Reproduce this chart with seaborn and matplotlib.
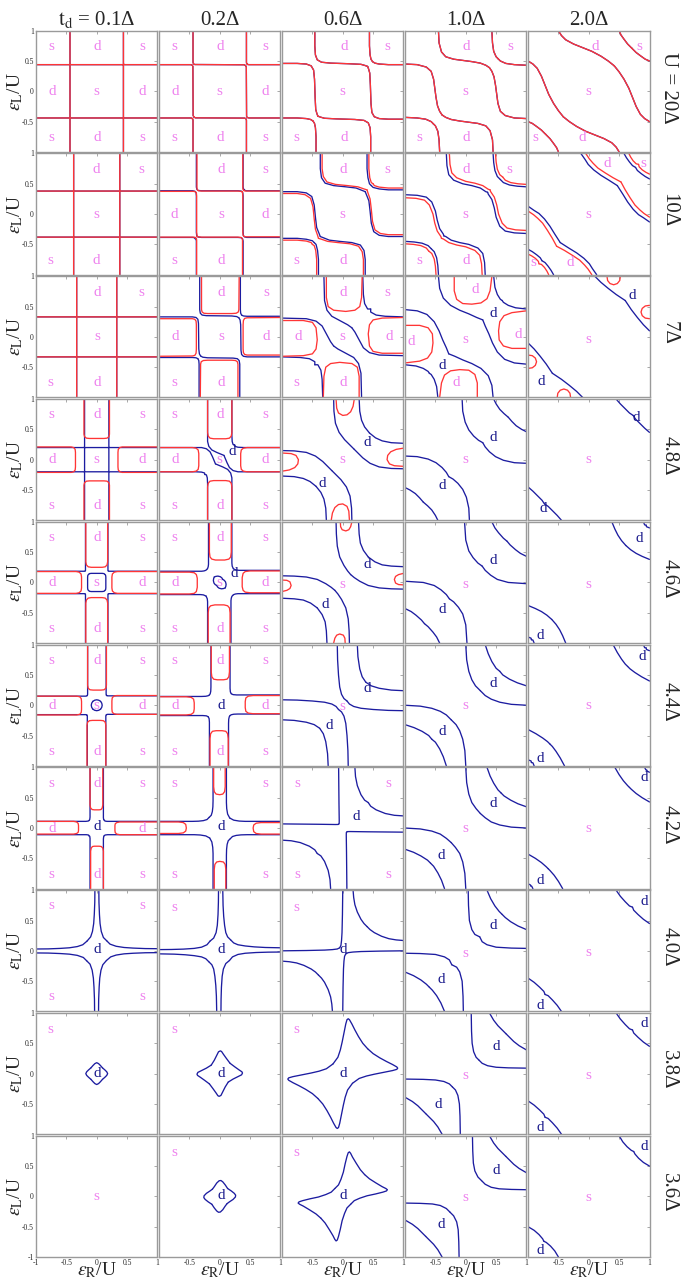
import numpy as np
import pandas as pd
import seaborn as sns
import matplotlib
matplotlib.use('Agg')
import matplotlib.pyplot as plt

# column / row headers
TD_VALUES = ['0.1', '0.2', '0.6', '1.0', '2.0']
U_VALUES = ['20', '10', '7', '4.8', '4.6', '4.4', '4.2', '4.0', '3.8', '3.6']

# Phase boundaries, one entry per t_d column. Each piece is a flat x,y list
# (eps_R/U, eps_L/U); the diagram is symmetric under
# (x,y)->(y,x), (-x,-y), (-y,-x), so only one piece of every orbit is kept.
U20_BLUE = [
    [[-0.44, 1, -0.44, 0.455, -0.436, 0.444, -0.425, 0.44, 0.425, 0.44, 0.435, 0.435],
     [0.44, 1, 0.44, 0.455, 0.445, 0.445]],
    [[-0.44, 1, -0.44, 0.48, -0.432, 0.452, -0.41, 0.442, 0.4, 0.438, 0.425, 0.425],
     [0.44, 1, 0.44, 0.48, 0.443, 0.458, 0.452, 0.452]],
    [[-0.46, 1, -0.46, 0.75, -0.45, 0.6, -0.42, 0.52, -0.35, 0.48, -0.2, 0.465, 0.1, 0.455,
      0.3, 0.445, 0.37, 0.425, 0.41, 0.41],
     [0.44, 1, 0.44, 0.75, 0.45, 0.6, 0.465, 0.53, 0.49, 0.49]],
    [[-0.45, 1, -0.44, 0.8, -0.40, 0.65, -0.33, 0.57, -0.2, 0.53, -0.05, 0.51, 0.1, 0.49,
      0.24, 0.465, 0.33, 0.43, 0.39, 0.39],
     [0.43, 1, 0.44, 0.8, 0.46, 0.66, 0.5, 0.57, 0.535, 0.535]],
    [[-0.5, 1, -0.45, 0.92, -0.38, 0.85, -0.25, 0.78, -0.1, 0.72, 0.05, 0.66, 0.2, 0.58,
      0.32, 0.5, 0.42, 0.42],
     [0.5, 1, 0.53, 0.93, 0.58, 0.86, 0.64, 0.78, 0.71, 0.71]],
]
U20_RED = U20_BLUE

U10_BLUE = [
    [[-0.38, 1, -0.38, 0.395, -0.376, 0.384, -0.365, 0.38, 0.365, 0.38, 0.376, 0.376],
     [0.38, 1, 0.38, 0.395, 0.385, 0.385]],
    [[-0.385, 1, -0.385, 0.445, -0.377, 0.41, -0.355, 0.39, -0.3, 0.385, 0.3, 0.385,
      0.35, 0.38, 0.37, 0.37],
     [0.385, 1, 0.385, 0.445, 0.39, 0.415, 0.405, 0.405]],
    [[-0.37, 1, -0.37, 0.75, -0.35, 0.6, -0.29, 0.51, -0.15, 0.47, 0.05, 0.45, 0.22, 0.43,
      0.32, 0.39, 0.37, 0.37],
     [0.40, 1, 0.40, 0.75, 0.415, 0.6, 0.44, 0.5, 0.47, 0.47]],
    [[-0.32, 1, -0.31, 0.8, -0.28, 0.65, -0.2, 0.56, -0.05, 0.5, 0.1, 0.47, 0.24, 0.43,
      0.33, 0.37, 0.36, 0.36],
     [0.45, 1, 0.46, 0.85, 0.48, 0.72, 0.52, 0.62, 0.57, 0.57]],
    [[-0.13, 1, -0.06, 0.9, -0.01, 0.82, 0.08, 0.73, 0.2, 0.64, 0.33, 0.56, 0.47, 0.47],
     [0.58, 1, 0.62, 0.93, 0.67, 0.86, 0.72, 0.8, 0.77, 0.77]],
]
U10_RED = [
    [[-0.38, 1, -0.38, 0.395, -0.376, 0.384, -0.365, 0.38, 0.365, 0.38, 0.376, 0.376],
     [0.38, 1, 0.38, 0.395, 0.385, 0.385]],
    [[-0.375, 1, -0.375, 0.43, -0.368, 0.4, -0.35, 0.385, -0.3, 0.38, 0.3, 0.38,
      0.35, 0.375, 0.37, 0.37],
     [0.38, 1, 0.38, 0.43, 0.385, 0.4, 0.395, 0.395]],
    [[-0.34, 1, -0.34, 0.75, -0.32, 0.62, -0.26, 0.53, -0.12, 0.49, 0.08, 0.47, 0.25, 0.45,
      0.35, 0.415, 0.40, 0.40],
     [0.43, 1, 0.43, 0.75, 0.445, 0.6, 0.47, 0.52, 0.50, 0.50]],
    [[-0.27, 1, -0.26, 0.82, -0.23, 0.68, -0.15, 0.6, 0.0, 0.54, 0.15, 0.51, 0.28, 0.47,
      0.37, 0.41, 0.40, 0.40],
     [0.49, 1, 0.50, 0.86, 0.52, 0.74, 0.56, 0.65, 0.61, 0.61]],
    [[-0.05, 1, 0.01, 0.91, 0.07, 0.84, 0.15, 0.76, 0.27, 0.68, 0.4, 0.6, 0.53, 0.53],
     [0.66, 1, 0.69, 0.94, 0.73, 0.88, 0.78, 0.83, 0.82, 0.82]],
]

U7_BLUE = [
    [[-0.33, 1, -0.33, 0.345, -0.326, 0.334, -0.315, 0.33, 0.315, 0.33, 0.326, 0.326],
     [0.33, 1, 0.33, 0.345, 0.335, 0.335]],
    [[-0.33, 1, -0.33, 0.45, -0.32, 0.39, -0.29, 0.36, -0.22, 0.35, 0.2, 0.345, 0.28, 0.335,
      0.315, 0.315],
     [0.34, 1, 0.34, 0.45, 0.345, 0.39, 0.36, 0.36]],
    [[-0.31, 1, -0.30, 0.6, -0.26, 0.44, -0.18, 0.34, -0.05, 0.27, 0.08, 0.2, 0.15, 0.15],
     [0.33, 1, 0.34, 0.7, 0.36, 0.55, 0.41, 0.46, 0.46, 0.46]],
    [[-0.45, 1, -0.43, 0.8, -0.37, 0.64, -0.25, 0.52, -0.1, 0.44, 0.05, 0.38, 0.18, 0.32,
      0.28, 0.28],
     [0.46, 1, 0.48, 0.82, 0.52, 0.7, 0.57, 0.62, 0.6, 0.6]],
    [[0.1, 1, 0.2, 0.9, 0.32, 0.8, 0.45, 0.7, 0.6, 0.6]],
]
U7_RED = [
    [[-0.33, 1, -0.33, 0.345, -0.326, 0.334, -0.315, 0.33, 0.315, 0.33, 0.326, 0.334,
      0.33, 0.345, 0.33, 1]],
    [[-0.30, 1, -0.30, 0.45, -0.29, 0.41, -0.26, 0.39, -0.2, 0.385, 0.2, 0.385, 0.27, 0.39,
      0.305, 0.41, 0.315, 0.45, 0.32, 1]],
    [[-0.27, 1, -0.27, 0.65, -0.24, 0.5, -0.15, 0.44, 0.05, 0.42, 0.2, 0.44, 0.28, 0.5,
      0.31, 0.65, 0.32, 1]],
    [[-0.19, 1, -0.19, 0.76, -0.15, 0.62, -0.05, 0.55, 0.1, 0.54, 0.25, 0.56, 0.35, 0.63,
      0.4, 0.76, 0.43, 1]],
    [[0.3, 1, 0.31, 0.93, 0.35, 0.88, 0.41, 0.86, 0.47, 0.88, 0.51, 0.93, 0.52, 1]],
]

U48_BLUE = [
    [[-0.2, 1, -0.2, 0.215, -0.204, 0.204],
     [0.2, 1, 0.2, 0.215, 0.204, 0.204],
     [0.196, 0.196, 0.185, 0.2, -0.185, 0.2, -0.196, 0.196]],
    [[-0.2, 1, -0.2, 0.4, -0.2, 0.3, -0.18, 0.22, -0.13, 0.16, -0.05, 0.12, 0.07, 0.07],
     [0.2, 1, 0.2, 0.4, 0.205, 0.3, 0.22, 0.25, 0.245, 0.245]],
    [[-0.15, 1, -0.145, 0.8, -0.12, 0.6, -0.06, 0.45, 0.03, 0.33, 0.11, 0.25, 0.18, 0.18],
     [0.27, 1, 0.28, 0.8, 0.31, 0.65, 0.36, 0.54, 0.44, 0.44]],
    [[-0.06, 1, -0.05, 0.8, -0.01, 0.62, 0.05, 0.49, 0.13, 0.39, 0.21, 0.32, 0.28, 0.28],
     [0.46, 1, 0.5, 0.92, 0.56, 0.83, 0.63, 0.76, 0.7, 0.7]],
    [[0.45, 1, 0.52, 0.92, 0.6, 0.84, 0.67, 0.77, 0.73, 0.73]],
]
U48_RED = [
    [[-0.21, 1, -0.21, 0.42, -0.2, 0.38, -0.17, 0.355, -0.12, 0.35, 0.12, 0.35, 0.17, 0.355,
      0.2, 0.38, 0.21, 0.42, 0.21, 1]],
    [[-0.2, 1, -0.2, 0.45, -0.19, 0.39, -0.16, 0.355, -0.1, 0.345, 0.1, 0.345, 0.16, 0.355,
      0.19, 0.39, 0.2, 0.45, 0.2, 1]],
    [[-0.11, 1, -0.1, 0.85, -0.07, 0.77, 0.0, 0.73, 0.07, 0.74, 0.13, 0.79, 0.17, 0.88, 0.19, 1]],
    [], [],
]

U46_BLUE = [
    [[-0.185, 1, -0.185, 0.2, -0.19, 0.19],
     [0.185, 1, 0.185, 0.2, 0.19, 0.19],
     [0.133, 0.133, 0.12, 0.146, 0.09, 0.15, -0.09, 0.15, -0.12, 0.146, -0.133, 0.133]],
    [[-0.185, 1, -0.185, 0.3, -0.19, 0.26, -0.2, 0.23, -0.214, 0.214],
     [0.2, 1, 0.2, 0.32, 0.205, 0.27, 0.225, 0.225],
     [0.05, 0.05, 0.035, 0.075, 0.01, 0.095, -0.03, 0.105, -0.065, 0.1, -0.09, 0.09]],
    [[-0.11, 1, -0.105, 0.8, -0.09, 0.6, -0.05, 0.42, 0.02, 0.28, 0.08, 0.19, 0.13, 0.13],
     [0.26, 1, 0.27, 0.8, 0.29, 0.65, 0.34, 0.53, 0.42, 0.42]],
    [[-0.02, 1, 0.0, 0.7, 0.05, 0.52, 0.12, 0.41, 0.2, 0.32, 0.27, 0.27],
     [0.43, 1, 0.48, 0.9, 0.54, 0.82, 0.62, 0.73, 0.68, 0.68]],
    [[0.38, 1, 0.43, 0.88, 0.48, 0.78, 0.54, 0.69, 0.61, 0.61],
     [0.9, 1, 0.92, 0.95, 0.945, 0.945]],
]
U46_RED = [
    [[-0.18, 1, -0.18, 0.34, -0.17, 0.29, -0.14, 0.258, -0.09, 0.25, 0.09, 0.25, 0.14, 0.258,
      0.17, 0.29, 0.18, 0.34, 0.18, 1]],
    [[-0.17, 1, -0.17, 0.5, -0.16, 0.42, -0.13, 0.385, -0.07, 0.37, 0.08, 0.37, 0.15, 0.385,
      0.18, 0.42, 0.19, 0.5, 0.19, 1]],
    [[-0.04, 1, -0.035, 0.92, -0.01, 0.87, 0.05, 0.85, 0.1, 0.87, 0.13, 0.92, 0.15, 1]],
    [], [],
]

U44_BLUE = [
    [[-0.15, 1, -0.15, 0.18, -0.153, 0.165, -0.159, 0.159],
     [0.155, 1, 0.155, 0.18, 0.158, 0.165, 0.164, 0.164],
     [0.064, 0.064, 0.034, 0.083, 0, 0.09, -0.034, 0.083, -0.064, 0.064]],
    [[-0.145, 1, -0.145, 0.3, -0.148, 0.23, -0.157, 0.19, -0.17, 0.17],
     [0.17, 1, 0.17, 0.28, 0.175, 0.22, 0.19, 0.19]],
    [[-0.09, 1, -0.085, 0.75, -0.07, 0.5, -0.05, 0.3, -0.02, 0.18, 0.02, 0.11, 0.07, 0.07],
     [0.24, 1, 0.25, 0.8, 0.28, 0.6, 0.32, 0.47, 0.38, 0.38]],
    [[0.0, 1, 0.015, 0.75, 0.05, 0.56, 0.1, 0.42, 0.16, 0.32, 0.24, 0.24],
     [0.32, 1, 0.37, 0.85, 0.43, 0.72, 0.5, 0.61, 0.56, 0.56]],
    [[0.4, 1, 0.47, 0.87, 0.54, 0.76, 0.6, 0.68, 0.64, 0.64],
     [0.9, 1, 0.92, 0.95, 0.945, 0.945]],
]
U44_RED = [
    [[-0.15, 1, -0.15, 0.33, -0.14, 0.28, -0.11, 0.255, -0.06, 0.25, 0.07, 0.25, 0.12, 0.255,
      0.15, 0.28, 0.16, 0.33, 0.16, 1]],
    [[-0.14, 1, -0.14, 0.55, -0.13, 0.47, -0.1, 0.43, -0.04, 0.42, 0.06, 0.42, 0.12, 0.43,
      0.15, 0.47, 0.16, 0.55, 0.16, 1]],
    [], [], [],
]

U42_BLUE = [
    [[-0.11, 1, -0.11, 0.18, -0.115, 0.14, -0.125, 0.125],
     [0.11, 1, 0.11, 0.17, 0.115, 0.135, 0.128, 0.128]],
    [[-0.11, 1, -0.11, 0.45, -0.113, 0.35, -0.122, 0.27, -0.14, 0.21, -0.175, 0.175],
     [0.11, 1, 0.11, 0.42, 0.115, 0.32, 0.13, 0.23, 0.165, 0.165]],
    [[-0.068, 1, -0.062, 0.4, -0.058, 0.12, -0.059, 0.075, -0.066, 0.066],
     [0.2, 1, 0.21, 0.85, 0.24, 0.7, 0.3, 0.55, 0.36, 0.46, 0.42, 0.42]],
    [[0.0, 1, 0.015, 0.75, 0.05, 0.56, 0.1, 0.42, 0.17, 0.32, 0.24, 0.24],
     [0.35, 1, 0.4, 0.86, 0.46, 0.74, 0.53, 0.63, 0.58, 0.58]],
    [[0.43, 1, 0.5, 0.88, 0.57, 0.78, 0.64, 0.7, 0.67, 0.67],
     [0.92, 1, 0.94, 0.96, 0.955, 0.955]],
]
U42_RED = [
    [[-0.11, 1, -0.11, 0.38, -0.1, 0.33, -0.075, 0.305, -0.04, 0.3, 0.04, 0.3, 0.07, 0.305,
      0.09, 0.33, 0.1, 0.38, 0.1, 1]],
    [[-0.1, 1, -0.1, 0.68, -0.09, 0.6, -0.06, 0.56, 0, 0.55, 0.05, 0.56, 0.08, 0.6, 0.09, 0.68,
      0.09, 1]],
    [], [], [],
]

U40_BLUE = [
    [[-0.03, 1, -0.032, 0.8, -0.04, 0.6, -0.05, 0.45, -0.07, 0.32, -0.1, 0.23, -0.16, 0.16],
     [0.035, 1, 0.037, 0.8, 0.045, 0.6, 0.055, 0.45, 0.075, 0.32, 0.11, 0.22, 0.165, 0.165]],
    [[-0.02, 1, -0.022, 0.8, -0.028, 0.6, -0.04, 0.42, -0.06, 0.3, -0.1, 0.21, -0.16, 0.16],
     [0.05, 1, 0.055, 0.75, 0.065, 0.57, 0.08, 0.42, 0.1, 0.3, 0.13, 0.23, 0.18, 0.18]],
    [[0.0, 1, -0.005, 0.6, -0.012, 0.3, -0.02, 0.17, -0.03, 0.09, -0.05, 0.05],
     [0.17, 1, 0.18, 0.88, 0.2, 0.76, 0.24, 0.64, 0.3, 0.52, 0.35, 0.45, 0.4, 0.4]],
    [[0.04, 1, 0.045, 0.75, 0.06, 0.5, 0.1, 0.35, 0.15, 0.27, 0.23, 0.23],
     [0.35, 1, 0.41, 0.86, 0.48, 0.74, 0.55, 0.65, 0.6, 0.6]],
    [[0.45, 1, 0.52, 0.9, 0.6, 0.81, 0.67, 0.74, 0.72, 0.72]],
]
U40_RED = [[], [], [], [], []]

U38_BLUE = [
    [[0.095, 0.095, 0.06, 0.135, 0.03, 0.165, 0.0, 0.18, -0.03, 0.165, -0.06, 0.135, -0.095, 0.095]],
    [[0.17, 0.17, 0.11, 0.25, 0.06, 0.32, 0.03, 0.365, 0.01, 0.375, -0.02, 0.36, -0.05, 0.3,
      -0.09, 0.22, -0.14, 0.14]],
    [[0.41, 0.41, 0.33, 0.5, 0.26, 0.61, 0.2, 0.72, 0.15, 0.82, 0.11, 0.89, 0.09, 0.905,
      0.07, 0.89, 0.05, 0.82, 0.02, 0.67, -0.01, 0.52, -0.04, 0.39, -0.08, 0.27, -0.16, 0.16]],
    [[0.09, 1, 0.095, 0.7, 0.105, 0.5, 0.13, 0.36, 0.17, 0.27, 0.22, 0.22],
     [0.39, 1, 0.46, 0.88, 0.53, 0.79, 0.6, 0.72, 0.66, 0.66]],
    [[0.45, 1, 0.52, 0.9, 0.6, 0.81, 0.67, 0.74, 0.72, 0.72]],
]
U38_RED = [[], [], [], [], []]

U36_BLUE = [
    [],
    [[0.13, 0.13, 0.09, 0.19, 0.05, 0.24, 0.02, 0.262, -0.01, 0.258, -0.05, 0.22, -0.09, 0.16,
      -0.12, 0.12]],
    [[0.36, 0.36, 0.29, 0.44, 0.22, 0.55, 0.16, 0.65, 0.13, 0.71, 0.11, 0.735, 0.09, 0.72,
      0.07, 0.66, 0.04, 0.54, 0.01, 0.4, -0.03, 0.28, -0.07, 0.19, -0.13, 0.13]],
    [[0.11, 1, 0.115, 0.75, 0.125, 0.55, 0.15, 0.42, 0.2, 0.32, 0.26, 0.26],
     [0.39, 1, 0.46, 0.88, 0.53, 0.79, 0.6, 0.72, 0.66, 0.66]],
    [[0.5, 1, 0.56, 0.9, 0.63, 0.82, 0.7, 0.76, 0.74, 0.74]],
]
U36_RED = [[], [], [], [], []]

# phase labels (x, y, text): pink ones and the dark-blue ones
GRID9 = [(-0.75, 0.74, 's'), (0.01, 0.74, 'd'), (0.75, 0.74, 's'),
         (-0.74, 0.0, 'd'), (0.0, 0.0, 's'), (0.75, 0.0, 'd'),
         (-0.75, -0.76, 's'), (0.01, -0.76, 'd'), (0.75, -0.76, 's')]
U20_TEXT = [GRID9, GRID9,
            [(0.03, 0.74, 'd'), (0.73, 0.74, 's'), (0, 0, 's'), (-0.77, -0.76, 's'), (0.03, -0.76, 'd')],
            [(0.01, 0.74, 'd'), (0.74, 0.74, 's'), (0, 0, 's'), (-0.76, -0.76, 's'), (0.0, -0.76, 'd')],
            [(0.1, 0.74, 'd'), (0.83, 0.74, 's'), (0, 0, 's'), (-0.88, -0.76, 's'), (-0.1, -0.76, 'd')]]
U10_TEXT = [[(0, 0.74, 'd'), (0.74, 0.74, 's'), (0, 0, 's'), (-0.77, -0.76, 's'), (0, -0.76, 'd')],
            [(0.02, 0.74, 'd'), (0.75, 0.74, 's'), (-0.75, 0, 'd'), (0.02, 0, 's'), (0.75, 0, 'd'),
             (-0.75, -0.76, 's'), (0.02, -0.76, 'd')],
            [(0.01, 0.74, 'd'), (0.74, 0.74, 's'), (0, 0, 's'), (-0.77, -0.76, 's'), (0.01, -0.76, 'd')],
            [(0.01, 0.74, 'd'), (0.72, 0.74, 's'), (0, 0, 's'), (-0.76, -0.76, 's'), (0.01, -0.76, 'd')],
            [(0.31, 0.84, 'd'), (0.89, 0.84, 's'), (0, 0, 's'), (-0.92, -0.8, 's'), (-0.31, -0.8, 'd')]]
U7_TEXT = [[(0.01, 0.74, 'd'), (0.74, 0.74, 's'), (0.01, 0, 's'), (-0.77, -0.76, 's'), (0.01, -0.76, 'd')],
           [(0.03, 0.74, 'd'), (0.76, 0.74, 's'), (-0.73, 0, 'd'), (0.02, 0, 's'), (0.76, 0, 'd'),
            (-0.75, -0.76, 's'), (0.02, -0.76, 'd')],
           [(0.01, 0.74, 'd'), (0.74, 0.74, 's'), (-0.73, 0, 'd'), (0, 0, 's'), (0.77, 0, 'd'),
            (-0.77, -0.76, 's'), (0.01, -0.76, 'd')],
           [(0.16, 0.79, 'd'), (0.86, 0.04, 'd'), (-0.89, -0.07, 'd'), (-0.16, -0.76, 'd'), (0, -0.04, 's')],
           [(0, -0.04, 's')]]
U7_TEXT_B = [[], [], [], [(0.45, 0.38, 'd'), (-0.38, -0.48, 'd')], [(0.71, 0.68, 'd'), (-0.79, -0.73, 'd')]]
U48_TEXT = [GRID9, GRID9, [(0, 0, 's')], [(0, 0, 's')], [(0, 0, 's')]]
U48_TEXT_B = [[], [(0.21, 0.14, 'd')], [(0.4, 0.29, 'd'), (-0.33, -0.4, 'd')],
              [(0.45, 0.36, 'd'), (-0.38, -0.43, 'd')], [(0.78, 0.69, 'd'), (-0.75, -0.81, 'd')]]
U46_TEXT = [GRID9, GRID9, [(0, -0.03, 's')], [(0, -0.03, 's')], [(0, -0.03, 's')]]
U46_TEXT_B = [[], [(0.24, 0.14, 'd')], [(0.4, 0.29, 'd'), (-0.29, -0.37, 'd')],
              [(0.45, 0.36, 'd'), (-0.38, -0.44, 'd')], [(0.83, 0.73, 'd'), (-0.8, -0.87, 'd')]]
GRID8 = [t for t in GRID9 if t[:2] != (0.0, 0.0)]
U44_TEXT = [GRID9, GRID8, [(0, -0.02, 's')], [(0, 0, 's')], [(0, 0, 's')]]
U44_TEXT_B = [[], [(0.02, 0, 'd')], [(0.4, 0.28, 'd'), (-0.22, -0.33, 'd')],
              [(0.45, 0.36, 'd'), (-0.38, -0.44, 'd')], [(0.88, 0.8, 'd'), (-0.8, -0.88, 'd')]]
CORNERS = [(-0.75, 0.74, 's'), (0.75, 0.74, 's'), (-0.75, -0.76, 's'), (0.75, -0.76, 's')]
U42_TEXT = [GRID8, CORNERS, CORNERS, [(0, 0, 's')], [(0, 0, 's')]]
U42_TEXT_B = [[(0.01, 0.02, 'd')], [(0.02, 0.02, 'd')], [(0.22, 0.19, 'd')],
              [(0.46, 0.41, 'd'), (-0.4, -0.46, 'd')], [(0.92, 0.84, 'd'), (-0.8, -0.86, 'd')]]
U40_TEXT = [CORNERS, [(-0.75, 0.72, 's')], [(-0.77, 0.72, 's')], [(0, -0.04, 's')], [(0, -0.03, 's')]]
U40_TEXT_B = [[(0.01, 0.02, 'd')], [(0.02, 0.02, 'd')], [(0.01, 0.02, 'd')],
              [(0.46, 0.41, 'd'), (-0.41, -0.47, 'd')], [(0.92, 0.82, 'd'), (-0.8, -0.9, 'd')]]
U38_TEXT = [[(-0.77, 0.72, 's')], [(-0.75, 0.72, 's')], [(-0.77, 0.73, 's')], [(0, -0.03, 's')], [(0, -0.03, 's')]]
U38_TEXT_B = [[(0.01, 0.01, 'd')], [(0.02, 0.01, 'd')], [(0.01, 0.01, 'd')],
              [(0.51, 0.44, 'd'), (-0.45, -0.51, 'd')], [(0.92, 0.83, 'd'), (-0.8, -0.89, 'd')]]
U36_TEXT = [[(0, 0, 's')], [(-0.75, 0.72, 's')], [(-0.77, 0.73, 's')], [(0, -0.01, 's')], [(0, -0.01, 's')]]
U36_TEXT_B = [[], [(0.02, 0.02, 'd')], [(0.01, 0.02, 'd')],
              [(0.51, 0.43, 'd'), (-0.4, -0.46, 'd')], [(0.92, 0.82, 'd'), (-0.8, -0.89, 'd')]]

NONE5 = [[], [], [], [], []]
ROWS = [
    (U20_BLUE, U20_RED, U20_TEXT, NONE5),
    (U10_BLUE, U10_RED, U10_TEXT, NONE5),
    (U7_BLUE, U7_RED, U7_TEXT, U7_TEXT_B),
    (U48_BLUE, U48_RED, U48_TEXT, U48_TEXT_B),
    (U46_BLUE, U46_RED, U46_TEXT, U46_TEXT_B),
    (U44_BLUE, U44_RED, U44_TEXT, U44_TEXT_B),
    (U42_BLUE, U42_RED, U42_TEXT, U42_TEXT_B),
    (U40_BLUE, U40_RED, U40_TEXT, U40_TEXT_B),
    (U38_BLUE, U38_RED, U38_TEXT, U38_TEXT_B),
    (U36_BLUE, U36_RED, U36_TEXT, U36_TEXT_B),
]

BLUE = '#1c1ca0'
RED = '#ff3535'
PINK = '#ee82ee'
NAVY = '#1a1a8c'
FRAME = '#9a9a9a'


def sym_frame(pieces):
    """Expand the stored pieces with the four-fold symmetry of the diagram."""
    parts = []
    for k, flat in enumerate(pieces):
        x = np.asarray(flat[0::2], float)
        y = np.asarray(flat[1::2], float)
        for j, (sx, sy) in enumerate(((x, y), (y, x), (-x, -y), (-y, -x))):
            parts.append(pd.DataFrame({'x': sx, 'y': sy, 'unit': 4 * k + j}))
    return pd.concat(parts, ignore_index=True)


sns.set_style('white')
plt.rcParams['font.family'] = ['Liberation Serif', 'DejaVu Sans']
plt.rcParams['mathtext.fontset'] = 'stix'

fig = plt.figure(figsize=(6.83, 12.78), dpi=100)
gs = fig.add_gridspec(10, 5, left=36 / 683, right=649.5 / 683,
                      top=1 - 30.7 / 1278, bottom=1 - 1257 / 1278,
                      wspace=0.013, hspace=0.013)

ticks = [-1, -0.5, 0, 0.5, 1]
for r, (blue, red, text, text_b) in enumerate(ROWS):
    for c in range(5):
        ax = fig.add_subplot(gs[r, c])
        for pieces, color in ((blue[c], BLUE), (red[c], RED)):
            if pieces:
                sns.lineplot(data=sym_frame(pieces), x='x', y='y', units='unit',
                             estimator=None, sort=False, color=color,
                             linewidth=0.95, ax=ax, legend=False)
        for x, y, t in text[c]:
            ax.text(x, y, t, color=PINK, fontsize=11, ha='center', va='center')
        for x, y, t in text_b[c]:
            ax.text(x, y, t, color=NAVY, fontsize=11, ha='center', va='center')

        ax.set_xlim(-1, 1)
        ax.set_ylim(-1, 1)
        ax.set_xticks(ticks)
        ax.set_yticks(ticks)
        ax.set_xlabel('')
        ax.set_ylabel('')
        for sp in ax.spines.values():
            sp.set_color(FRAME)
            sp.set_linewidth(1.0)
        ax.tick_params(direction='in', length=2.5, width=0.6, color=FRAME,
                       top=True, right=True, labelsize=5.5, pad=1.5)
        if c == 0:
            ylab = ['-1' if r == 9 else '', '-0.5', '0', '0.5', '1']
            ax.set_yticklabels(ylab)
            ax.set_ylabel(r'$\varepsilon_{\rm L}$/U', fontsize=14)
            ax.yaxis.set_label_coords(-0.09, 0.5)
        else:
            ax.set_yticklabels([])
        if r == 9:
            xlab = ['-1' if c == 0 else '', '-0.5', '0', '0.5', '1']
            ax.set_xticklabels(xlab)
            ax.set_xlabel(r'$\varepsilon_{\rm R}$/U', fontsize=14)
            ax.xaxis.set_label_coords(0.5, -0.03)
        else:
            ax.set_xticklabels([])
        if r == 0:
            head = (r'$\rm t_d$ = ' if c == 0 else '') + TD_VALUES[c] + 'Δ'
            ax.text(0.5, 1.05, head, transform=ax.transAxes, ha='center',
                    va='baseline', fontsize=15)
        if c == 4:
            side = ('U = ' if r == 0 else '') + U_VALUES[r] + 'Δ'
            ax.text(1.16, 0.53, side, transform=ax.transAxes, ha='center',
                    va='center', rotation=270, fontsize=15)

fig.savefig('out.png', dpi=100)
